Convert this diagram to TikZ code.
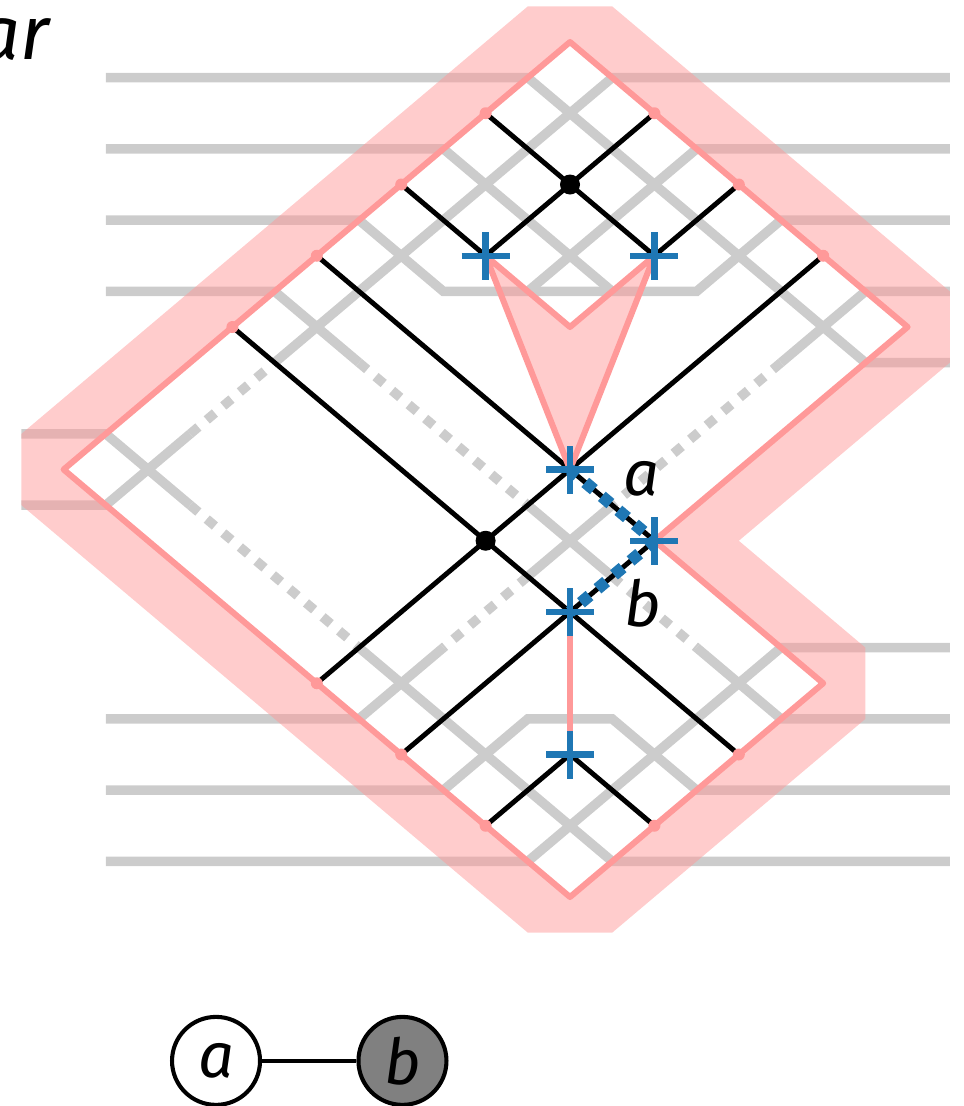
\documentclass[tikz,border=0pt]{standalone}
\usepackage{fontspec}
\setmainfont{Fira Sans}
\usepackage{xcolor}
\definecolor{mWire}{HTML}{CCCCCC}
\definecolor{mPink}{HTML}{FF9999}
\definecolor{mBlue}{HTML}{1F77B4}
\definecolor{mDark}{HTML}{808080}
\tikzset{
  gate/.pic={
    \draw[mBlue, line width=4.6pt] (-0.6cm,0) -- (0.6cm,0);
    \draw[mBlue, line width=4.6pt] (0,-0.6cm) -- (0,0.6cm);
  }
}
\begin{document}
\begin{tikzpicture}[
  x=2.11cm, y=-1.78125cm,
  wire/.style={draw=mWire, line width=6.76pt, line join=miter},
  wiredot/.style={draw=mWire, line width=6.76pt, dash pattern=on 7.6pt off 7.8pt},
  leg/.style={draw=black, line width=3.5pt},
  rim/.style={draw=mPink, line width=4.3pt, line join=round},
  tick/.style={circle, fill=mPink, inner sep=0pt, minimum size=0.3cm},
  vertex/.style={circle, fill=black, inner sep=0pt, minimum size=0.5cm},
  link/.style={draw=mBlue, line width=8.6pt, dash pattern=on 8pt off 7.4pt, dash phase=1.2pt},
  lab/.style={font=\fontsize{45}{45}\selectfont\itshape, anchor=base, inner sep=0pt},
  site/.style={circle, draw=black, line width=2.9pt, minimum size=2.2cm, inner sep=0pt,
               font=\fontsize{45}{45}\selectfont\itshape}]
  \useasboundingbox (-6.7536,-0.5895) rectangle (4.6682,14.9333);
  % wires, top half
  \draw[wire] (-5.5,0.5) -- (-0.5,0.5) -- (3.5,4.5) -- (4.5,4.5);
  \draw[wire] (4.5,0.5) -- (0.5,0.5) -- (-3.5,4.5);
  \draw[wire] (-5.5,1.5) -- (-1.5,1.5) -- (0.5,3.5);
  \draw[wire] (4.5,1.5) -- (1.5,1.5) -- (-0.5,3.5);
  \draw[wire] (-5.5,2.5) -- (-2.5,2.5) -- (-1.5,3.5) -- (1.5,3.5) -- (2.5,2.5) -- (4.5,2.5);
  \draw[wire] (-5.5,3.5) -- (-3.5,3.5) -- (-2.5,4.5);
  \draw[wire] (4.5,3.5) -- (3.5,3.5) -- (2.5,4.5);
  % wires, left corner and middle
  \draw[wire] (-6.5,5.5) -- (-5.5,5.5) -- (-4.5,6.5);
  \draw[wire] (-6.5,6.5) -- (-5.5,6.5) -- (-4.5,5.5);
  \draw[wire] (-0.5,6.5) -- (0.5,7.5);
  \draw[wire] (0.5,6.5) -- (-0.5,7.5);
  % wires, bottom half
  \draw[wire] (1.5,8.5) -- (2.5,9.5) -- (4.5,9.5);
  \draw[wire] (-5.5,9.5) -- (-2.5,9.5) -- (-1.5,8.5);
  \draw[wire] (4.5,8.5) -- (2.5,8.5) -- (-0.5,11.5) -- (-5.5,11.5);
  \draw[wire] (-2.5,8.5) -- (0.5,11.5) -- (4.5,11.5);
  \draw[wire] (-5.5,10.5) -- (-1.5,10.5) -- (-0.5,9.5) -- (0.5,9.5) -- (1.5,10.5) -- (4.5,10.5);
  % dotted parts of the wires
  \draw[wiredot] (-4.5,5.5) -- (-3.5,4.5);
  \draw[wiredot] (-4.5,6.5) -- (-2.5,8.5);
  \draw[wiredot] (-2.5,4.5) -- (-0.5,6.5);
  \draw[wiredot] (2.5,4.5) -- (0.5,6.5);
  \draw[wiredot] (-0.5,7.5) -- (-1.5,8.5);
  \draw[wiredot] (0.5,7.5) -- (1.5,8.5);
  % ends on the rim, sites of the gates
  \foreach \n/\k/\j in {tA/-1/1, tB/1/1, tC/-2/2, tD/2/2, tE/-3/3, tF/3/3, tG/-4/4,
                        tH/-3/9, tI/-2/10, tJ/2/10, tK/-1/11, tL/1/11,
                        g1/-1/3, g2/1/3, g3/0/6, g4/1/7, g5/0/8, g6/0/10, d1/0/2, d2/-1/7}
    \coordinate (\n) at (\k,\j);
  % legs
  \draw[leg] (tA) -- (g2);  \draw[leg] (tB) -- (g1);
  \draw[leg] (tC) -- (g1);  \draw[leg] (tD) -- (g2);
  \draw[leg] (tE) -- (g4);  \draw[leg] (tF) -- (tH);
  \draw[leg] (tG) -- (tJ);  \draw[leg] (g4) -- (tI);
  \draw[leg] (tK) -- (g6);  \draw[leg] (tL) -- (g6);
  % band round the lattice
  \fill[mPink, fill opacity=0.5, even odd rule]
    (-0.5,-0.5) -- (0.5,-0.5) -- (4.5,3.5) -- (4.5,4.5) -- (2,7) -- (3.5,8.5) -- (3.5,9.5)
    -- (0.5,12.5) -- (-0.5,12.5) -- (-6.5,6.5) -- (-6.5,5.5) -- cycle
    (0,0) -- (4,4) -- (1,7) -- (3,9) -- (0,12) -- (-6,6) -- cycle;
  \draw[rim] (0,0) -- (4,4) -- (1,7) -- (3,9) -- (0,12) -- (-6,6) -- cycle;
  \foreach \n in {tA, tB, tC, tD, tE, tF, tG, tH, tI, tJ, tK, tL}
    \node[tick] (\n-dot) at (\n) {};
  % pink inside
  \draw[rim, fill=mPink, fill opacity=0.5, draw opacity=1] (g1) -- (0,4) -- (g2) -- (g3) -- cycle;
  \draw[rim] (g5) -- (g6);
  % dotted bonds
  \draw[link] (g3) -- (g4);
  \draw[link] (g4) -- (g5);
  % gates and vertices
  \foreach \n in {g1, g2, g3, g4, g5, g6}
    \pic at (\n) {gate};
  \node[vertex] (d1-dot) at (d1) {};
  \node[vertex] (d2-dot) at (d2) {};
  % labels
  \node[lab] (la) at (0.853,6.358) {a};
  \node[lab] (lb) at (0.865,8.21) {b};
  \node[font=\fontsize{54}{54}\selectfont\itshape, anchor=base east, inner sep=0pt] (title) at (-6.16,0.25) {ar};
  % small graph
  \node[site, fill=white] (sa) at (-4.194,14.30) {a};
  \node[site, fill=mDark] (sb) at (-1.985,14.30) {b};
  \draw[draw=black, line width=2.6pt] (sa) -- (sb);
\end{tikzpicture}
\end{document}
